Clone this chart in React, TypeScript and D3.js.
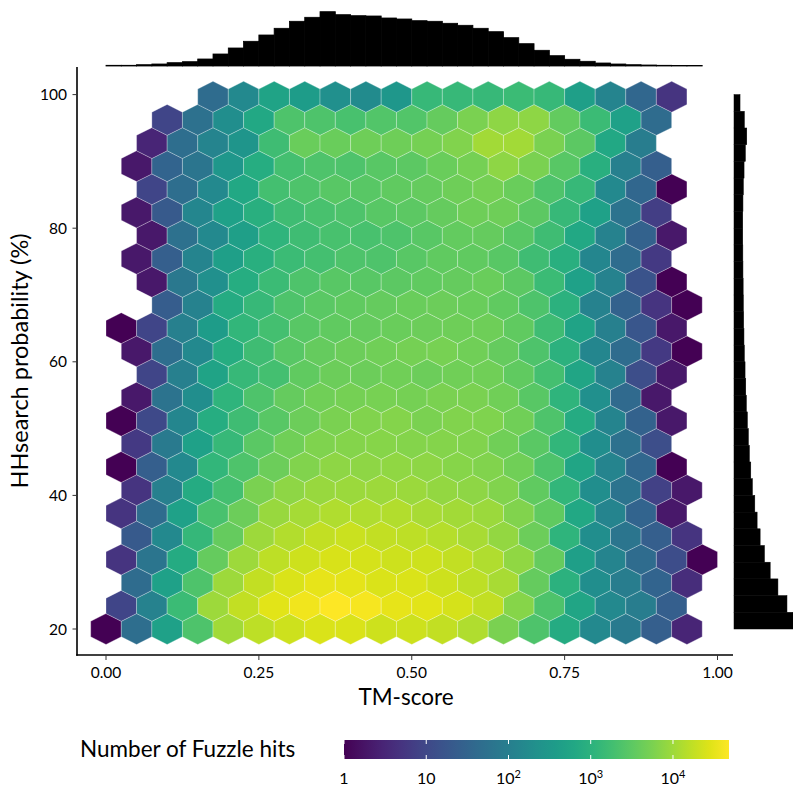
import React from "react";
import * as d3 from "d3";

// ---------- data ----------
// Hexbin: x bin width 0.05 (TM-score), y bin width 4 (HHsearch probability, %)
const hexBinWidthX = 0.05;
const hexBinWidthY = 4;
const hexOriginY = 20;
// first column index of each row (row 0 = bottom); odd rows are shifted half a bin
const hexRowStart = [0, 0, 1, 0, 1, 0, 1, 0, 1, 0, 1, 1, 1, 0, 2, 1, 1, 1, 1, 1, 1, 1, 2, 3];
// number of Fuzzle hits in each hexagon, row by row from bottom
const hexCountsByRow: number[][] = [
  [1, 48, 465, 2342, 10582, 16280, 21308, 26428, 26428, 21308, 21308, 18130, 13125, 5545, 2342, 716, 158, 83, 25, 3],
  [9, 115, 1522, 10027, 18130, 29432, 38560, 47863, 40694, 32779, 29432, 23730, 18130, 6878, 2342, 577, 158, 92, 25],
  [43, 465, 2342, 10027, 18130, 26428, 32779, 31061, 26428, 26428, 21308, 16280, 11785, 3804, 989, 196, 92, 31, 4],
  [5, 67, 716, 3804, 10027, 16280, 21308, 25043, 23730, 21308, 21308, 18130, 13125, 8084, 3804, 418, 128, 43, 12, 1],
  [20, 158, 1295, 3804, 10027, 13851, 18130, 20191, 18130, 16280, 14618, 11785, 8531, 4236, 1102, 196, 67, 25, 5],
  [5, 43, 465, 2103, 4236, 9003, 11167, 13125, 13125, 13851, 11785, 10582, 9501, 6176, 3415, 643, 128, 31, 2],
  [5, 103, 716, 1888, 5545, 7660, 9003, 9501, 10027, 9501, 8531, 7660, 6176, 3415, 1227, 196, 60, 8, 2],
  [1, 25, 158, 1227, 2342, 4236, 6176, 7660, 7660, 8084, 7660, 6878, 6176, 4718, 2342, 577, 128, 35, 1],
  [6, 83, 465, 1367, 3066, 4718, 5852, 6517, 6878, 6517, 6517, 6176, 4718, 3066, 1227, 196, 54, 13],
  [1, 11, 142, 797, 1695, 2905, 4236, 5545, 6176, 6517, 5545, 6176, 5852, 4718, 2342, 716, 128, 28, 2],
  [2, 60, 196, 1102, 2342, 3804, 4718, 4979, 5254, 4979, 5545, 5545, 4718, 2905, 1102, 219, 39, 2],
  [9, 103, 518, 1367, 1888, 3415, 4236, 4236, 4718, 4236, 4718, 4718, 3415, 1888, 577, 115, 13, 2],
  [2, 48, 158, 797, 1695, 2905, 3804, 4236, 4718, 4979, 5254, 4718, 3804, 2342, 989, 142, 43, 6, 1],
  [1, 9, 103, 375, 1227, 1888, 2905, 3415, 3804, 4014, 4236, 4471, 4471, 3415, 1695, 518, 103, 18, 2],
  [23, 115, 716, 1367, 2342, 3066, 3415, 3804, 4014, 4236, 4014, 3415, 2342, 989, 115, 28, 5, 1],
  [2, 74, 219, 797, 1522, 2342, 2905, 2905, 3236, 3415, 3804, 4014, 3236, 1522, 465, 115, 16, 1],
  [2, 25, 128, 418, 888, 1522, 1888, 2342, 2342, 2905, 3415, 3415, 2905, 1695, 888, 142, 43, 6],
  [2, 54, 158, 418, 1102, 1695, 2103, 2103, 2342, 2905, 3604, 3804, 2905, 1695, 643, 115, 28, 2],
  [2, 20, 142, 465, 888, 1695, 2103, 2342, 2905, 3236, 3804, 4471, 4471, 3236, 1367, 465, 60, 7],
  [9, 48, 158, 643, 1888, 2342, 2905, 2905, 3415, 3804, 4471, 4979, 4014, 2342, 1367, 158, 35, 1],
  [2, 31, 67, 302, 797, 1888, 2342, 2342, 2905, 3236, 4014, 4979, 7660, 5545, 2905, 888, 103, 25],
  [3, 48, 128, 271, 1695, 4014, 4014, 4471, 4471, 4979, 6176, 10582, 10582, 5545, 3236, 643, 92],
  [9, 54, 196, 643, 2342, 2342, 2103, 2608, 2608, 3804, 5545, 7660, 7660, 3604, 1522, 465, 43],
  [43, 158, 518, 375, 219, 176, 302, 1367, 1367, 1367, 1522, 1367, 418, 128, 35, 5],
];

// top marginal histogram of TM-score (thousands of hits), bins of 0.025 starting at 0
const topHistBinWidth = 0.025;
const topHistCounts = [0.7, 0.7, 1.3, 2, 3.3, 4.3, 7, 12, 18, 24.7, 31, 37.7, 44.7, 48.7, 54.3, 51.3, 50.3, 50, 48, 47, 45.3, 44.7, 42.7, 40.7, 37.7, 34.3, 28.3, 22.3, 15.7, 10.3, 6.7, 4.7, 3, 2, 1.3, 1, 0.7, 0.5, 0.5];

// right marginal histogram of HHsearch probability (thousands of hits), bins of 2.5 starting at 20
const rightHistStart = 20;
const rightHistBinWidth = 2.5;
const rightHistCounts = [58.7, 52.7, 43.7, 36, 30.3, 26, 23, 20.7, 18.3, 16.7, 15.3, 14.3, 13.3, 12.3, 11.7, 11, 10.3, 9.9, 9.6, 9.3, 9.1, 8.9, 8.8, 8.7, 8.7, 8.9, 9.3, 10, 11.3, 12.7, 10.3, 6];

const xTicks = [0, 0.25, 0.5, 0.75, 1];
const xTickLabels = ["0.00", "0.25", "0.50", "0.75", "1.00"];
const yTicks = [20, 40, 60, 80, 100];
const legendTicks = [1, 10, 100, 1000, 10000];
const legendExponents = ["", "", "2", "3", "4"];
const colorMax = 48000;

const FONT = "Lato, 'Open Sans', sans-serif";

export default function App() {
  const x = d3.scaleLinear().domain([0, 1]).range([106, 717.5]);
  const y = d3.scaleLinear().domain([20, 100]).range([629, 94.6]);
  const color = d3.scaleSequentialLog(d3.interpolateViridis).domain([1, colorMax]);

  const rowSpacing = (hexBinWidthY * Math.sqrt(3)) / 2;
  const hx = x(hexBinWidthX / 2) - x(0);
  const ry = y(hexOriginY) - y(hexOriginY + (rowSpacing * 2) / 3);
  const hexPath =
    d3.line()([
      [0, -ry],
      [hx, -ry / 2],
      [hx, ry / 2],
      [0, ry],
      [-hx, ry / 2],
      [-hx, -ry / 2],
    ]) + "Z";

  const hexes: { cx: number; cy: number; n: number }[] = [];
  hexCountsByRow.forEach((row, r) => {
    const offset = r % 2 === 1 ? hexBinWidthX / 2 : 0;
    row.forEach((n, j) => {
      const i = hexRowStart[r] + j;
      hexes.push({ cx: x(i * hexBinWidthX + offset), cy: y(hexOriginY + r * rowSpacing), n });
    });
  });

  const topY = d3.scaleLinear().domain([0, d3.max(topHistCounts)!]).range([66, 11.7]);
  const rightX = d3.scaleLinear().domain([0, d3.max(rightHistCounts)!]).range([734, 793]);

  const leg = d3.scaleLog().domain([1, colorMax]).range([344, 729]);
  const gradStops = d3.range(0, 1.0001, 0.05);

  return (
    <svg width={793} height={788} style={{ position: "absolute", left: 0, top: 0 }} fontFamily={FONT}>
      <rect width={793} height={788} fill="#fff" />
      {/* top marginal histogram */}
      <g>
        {topHistCounts.map((c, k) => (
          <rect
            key={k}
            x={x(k * topHistBinWidth)}
            y={topY(c)}
            width={x((k + 1) * topHistBinWidth) - x(k * topHistBinWidth)}
            height={topY(0) - topY(c)}
            fill="#000"
            stroke="#000"
            strokeWidth={0.8}
          />
        ))}
      </g>
      {/* right marginal histogram */}
      <g>
        {rightHistCounts.map((c, k) => {
          const y0 = y(rightHistStart + k * rightHistBinWidth);
          const y1 = y(rightHistStart + (k + 1) * rightHistBinWidth);
          return (
            <rect key={k} x={rightX(0)} y={y1} width={rightX(c) - rightX(0)} height={y0 - y1} fill="#000" stroke="#000" strokeWidth={0.5} />
          );
        })}
      </g>
      {/* hexes */}
      <g>
        {hexes.map((h, k) => (
          <path
            key={k}
            d={hexPath}
            transform={`translate(${h.cx},${h.cy})`}
            fill={color(h.n)}
            stroke="#ffffff"
            strokeOpacity={0.45}
            strokeWidth={0.6}
          />
        ))}
      </g>
      {/* axes */}
      <line x1={77} x2={77} y1={67} y2={655.8} stroke="#000" strokeWidth={1.6} />
      <line x1={76.2} x2={733} y1={655} y2={655} stroke="#000" strokeWidth={1.6} />
      {yTicks.map((t) => (
        <g key={t}>
          <line x1={72.5} x2={77} y1={y(t)} y2={y(t)} stroke="#333" strokeWidth={1} />
          <text x={67} y={y(t)} dy="0.36em" textAnchor="end" fontSize={15.5} fill="#000">
            {t}
          </text>
        </g>
      ))}
      {xTicks.map((t, i) => (
        <g key={t}>
          <line x1={x(t)} x2={x(t)} y1={655} y2={660} stroke="#333" strokeWidth={1} />
          <text x={x(t)} y={678} textAnchor="middle" fontSize={15.5} fill="#000">
            {xTickLabels[i]}
          </text>
        </g>
      ))}
      <text x={406} y={705} textAnchor="middle" fontSize={22.5} fill="#000">
        TM-score
      </text>
      <text transform="translate(28,361) rotate(-90)" textAnchor="middle" fontSize={23.5} fill="#000">
        HHsearch probability (%)
      </text>
      {/* legend */}
      <text x={80} y={757} fontSize={22.5} fill="#000">
        Number of Fuzzle hits
      </text>
      <defs>
        <linearGradient id="vir" x1="0" x2="1" y1="0" y2="0">
          {gradStops.map((s) => (
            <stop key={s} offset={s} stopColor={d3.interpolateViridis(s)} />
          ))}
        </linearGradient>
      </defs>
      <rect x={leg(1)} y={740} width={leg(colorMax) - leg(1)} height={19} fill="url(#vir)" />
      {legendTicks.map((t, i) => (
        <g key={t}>
          <line x1={leg(t)} x2={leg(t)} y1={740} y2={744} stroke="#fff" strokeWidth={1} />
          <line x1={leg(t)} x2={leg(t)} y1={755} y2={759} stroke="#fff" strokeWidth={1} />
          <text x={leg(t)} y={784} textAnchor="middle" fontSize={16} fill="#000">
            {legendExponents[i] ? (
              <>
                10
                <tspan dy={-6} fontSize={11}>
                  {legendExponents[i]}
                </tspan>
              </>
            ) : (
              String(t)
            )}
          </text>
        </g>
      ))}
    </svg>
  );
}
